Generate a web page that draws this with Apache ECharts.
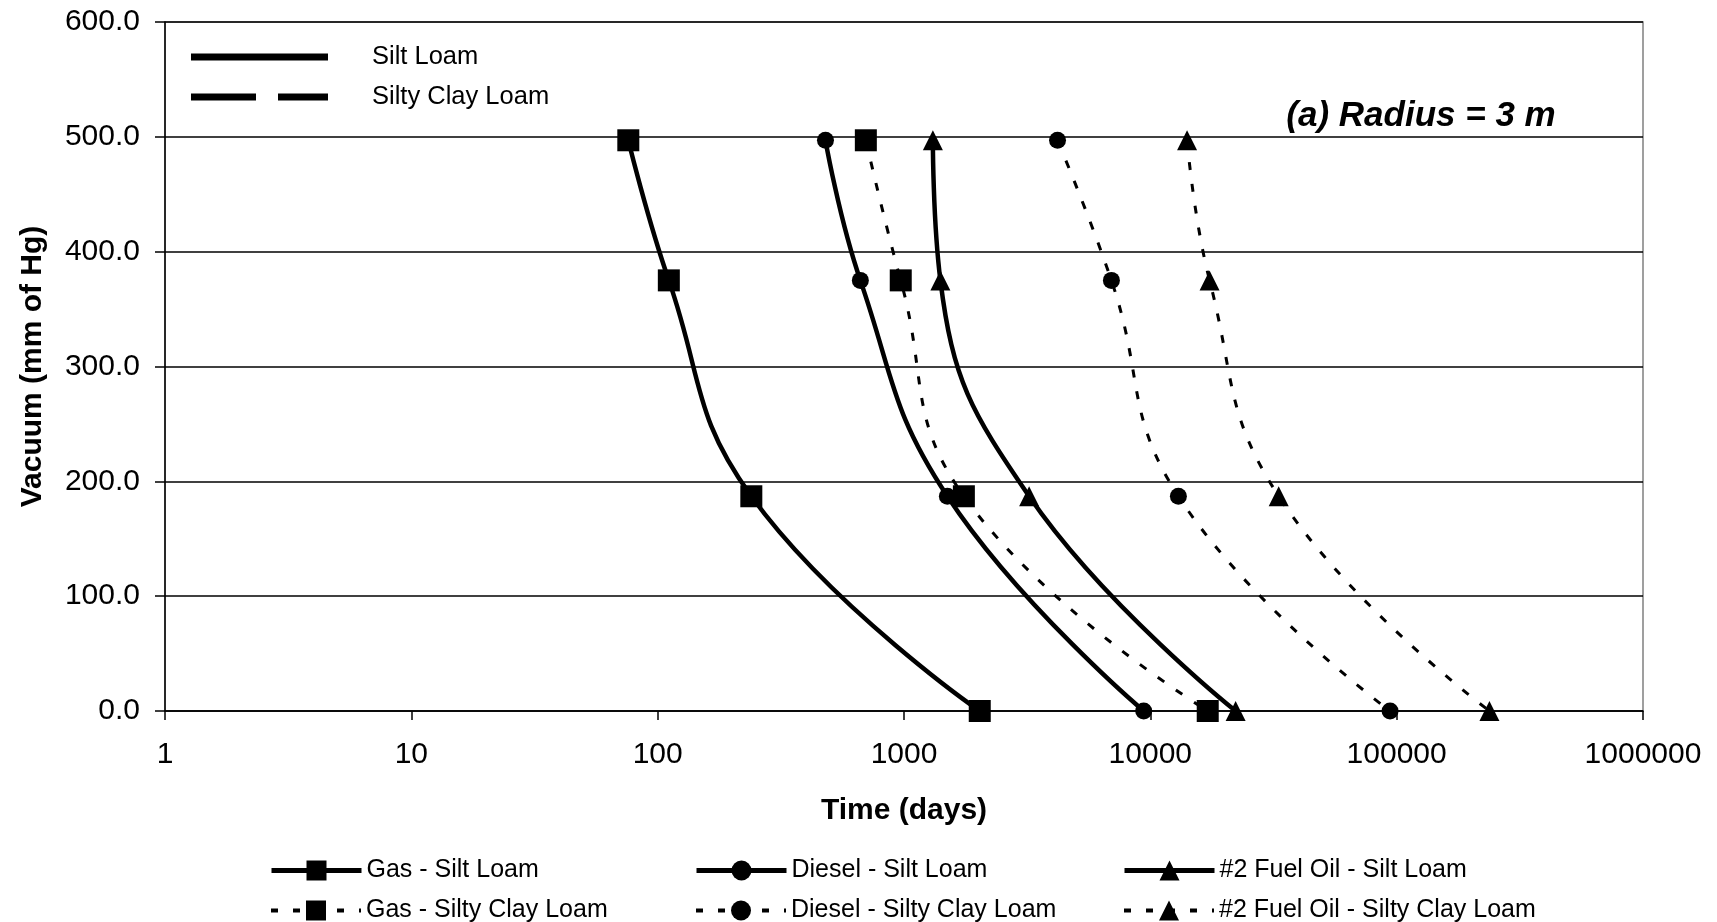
<!DOCTYPE html>
<html>
<head>
<meta charset="utf-8">
<script src="https://cdn.jsdelivr.net/npm/echarts@6/dist/echarts.min.js"></script>
<style>
html,body{margin:0;padding:0;background:#fff;}
#chart{width:1717px;height:922px;}
</style>
</head>
<body>
<div id="chart"></div>
<script>
// Vacuum levels (mm of Hg) at which times were read
const vacuum = [497, 375, 187, 0];
// Time (days) for each series, in the same order as vacuum
const gasSilt = [76, 111, 240, 2030];
const gasClay = [700, 970, 1750, 17100];
const dieselSilt = [480, 665, 1500, 9400];
const dieselClay = [4200, 6950, 13000, 94000];
const fuelSilt = [1310, 1405, 3220, 22200];
const fuelClay = [14100, 17400, 33200, 238000];
const yTicks = [0, 100, 200, 300, 400, 500, 600];
const xTicks = [1, 10, 100, 1000, 10000, 100000, 1000000];

const FONT = 'Liberation Sans, Arial, sans-serif';

function pts(xs) { return xs.map((x, i) => [x, vacuum[i]]); }

function mk(name, xs, symbol, size, dashed) {
  return {
    name: name, type: 'line', data: pts(xs), smooth: 0.45, clip: false,
    symbol: symbol, symbolSize: size,
    itemStyle: { color: '#000' },
    lineStyle: dashed ? { color: '#000', width: 3, type: [8, 14] } : { color: '#000', width: 4.5 },
    z: 3
  };
}

function legendItem(name, left, top, dashed) {
  return {
    orient: 'horizontal', left: left, top: top, padding: 0,
    itemWidth: 90, itemHeight: 25, selectedMode: false,
    lineStyle: dashed ? { width: 4, type: [7, 15] } : { width: 5, type: 'solid' },
    textStyle: { fontFamily: FONT, fontSize: 25, color: '#000' },
    data: [name]
  };
}

const chart = echarts.init(document.getElementById('chart'));
const option = {
  backgroundColor: '#fff',
  animation: false,
  textStyle: { fontFamily: FONT, color: '#000' },
  title: {
    text: '(a) Radius = 3 m', left: 1416, top: 94, textAlign: 'center',
    textStyle: { fontFamily: FONT, fontSize: 35, fontWeight: 'bold', fontStyle: 'italic', color: '#000' }
  },
  grid: { left: 165, right: 74, top: 22, bottom: 211, show: true, borderColor: '#808080', borderWidth: 1.5 },
  xAxis: {
    type: 'log', logBase: 10, min: xTicks[0], max: xTicks[xTicks.length - 1],
    name: 'Time (days)', nameLocation: 'middle', nameGap: 85,
    nameTextStyle: { fontFamily: FONT, fontSize: 30, fontWeight: 'bold', color: '#000' },
    axisLine: { lineStyle: { color: '#000', width: 1.5 } },
    axisTick: { show: true, length: 9, lineStyle: { color: '#000', width: 1.5 } },
    minorTick: { show: false },
    splitLine: { show: false },
    axisLabel: { fontFamily: FONT, fontSize: 30, color: '#000', margin: 29,
      formatter: v => String(Math.round(v)) }
  },
  yAxis: {
    type: 'value', min: yTicks[0], max: yTicks[yTicks.length - 1], interval: 100,
    name: 'Vacuum (mm of Hg)', nameLocation: 'middle', nameGap: 117,
    nameTextStyle: { fontFamily: FONT, fontSize: 30, fontWeight: 'bold', color: '#000' },
    axisLine: { show: true, lineStyle: { color: '#000', width: 1.5 } },
    axisTick: { show: true, length: 10, lineStyle: { color: '#000', width: 1.5 } },
    splitLine: { show: true, lineStyle: { color: '#000', width: 1.5 } },
    axisLabel: { fontFamily: FONT, fontSize: 30, color: '#000', margin: 25,
      formatter: v => v.toFixed(1) }
  },
  legend: [
    {
      orient: 'vertical', left: 186, top: 39, itemWidth: 137, itemHeight: 7, itemGap: 14,
      selectedMode: false,
      textStyle: { fontFamily: FONT, fontSize: 25.5, color: '#000', padding: [0, 0, 0, 39] },
      data: [
        { name: 'Silt Loam', icon: 'path://M0,0H137V7H0Z' },
        { name: 'Silty Clay Loam', icon: 'path://M0,0H65V7H0Z M87,0H137V7H87Z' }
      ]
    },
    legendItem('Gas - Silt Loam', 269, 858, false),
    legendItem('Gas - Silty Clay Loam', 269, 898, true),
    legendItem('Diesel - Silt Loam', 694, 858, false),
    legendItem('Diesel - Silty Clay Loam', 694, 898, true),
    legendItem('#2 Fuel Oil - Silt Loam', 1122, 858, false),
    legendItem('#2 Fuel Oil - Silty Clay Loam', 1122, 898, true)
  ],
  series: [
    { name: 'Silt Loam', type: 'line', data: [], symbol: 'none', itemStyle: { color: '#000' }, lineStyle: { color: '#000', width: 6 } },
    { name: 'Silty Clay Loam', type: 'line', data: [], symbol: 'none', itemStyle: { color: '#000' }, lineStyle: { color: '#000', width: 6, type: 'dashed' } },
    mk('Gas - Silt Loam', gasSilt, 'rect', 22, false),
    mk('Diesel - Silt Loam', dieselSilt, 'circle', 17, false),
    mk('#2 Fuel Oil - Silt Loam', fuelSilt, 'triangle', 20, false),
    mk('Gas - Silty Clay Loam', gasClay, 'rect', 22, true),
    mk('Diesel - Silty Clay Loam', dieselClay, 'circle', 17, true),
    mk('#2 Fuel Oil - Silty Clay Loam', fuelClay, 'triangle', 20, true)
  ]
};
chart.setOption(option);
</script>
</body>
</html>
